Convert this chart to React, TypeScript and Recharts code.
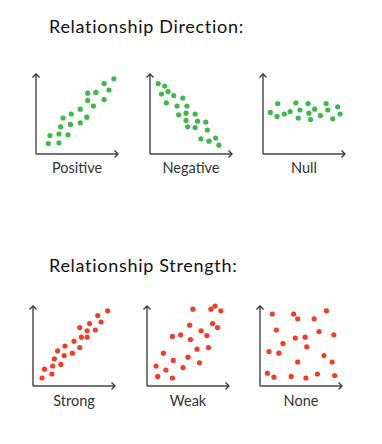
import { ScatterChart, Scatter, XAxis, YAxis } from 'recharts'

// points, each panel on a 0-100 scale
const positivePoints = [
  [15, 13], [28, 14], [17, 23], [28, 25], [39, 24], [30, 34], [33, 45], [42, 37],
  [43, 50], [54, 39], [54, 56], [62, 46], [63, 67], [63, 76], [70, 60], [73, 77],
  [83, 68], [83, 88], [89, 80], [95, 94],
]
const negativePoints = [
  [10, 88], [18, 85], [14, 75], [22, 78], [29, 73], [40, 70], [20, 64], [33, 60],
  [45, 60], [35, 49], [44, 51], [55, 50], [44, 42], [58, 41], [68, 40], [46, 34],
  [55, 33], [70, 30], [62, 19], [72, 16], [80, 20], [84, 11],
]
const nullPoints = [
  [9, 52], [18, 63], [17, 47], [26, 50], [33, 53], [40, 64], [43, 45], [45, 55],
  [55, 63], [56, 51], [58, 43], [63, 56], [70, 48], [77, 63], [79, 55], [85, 44],
  [91, 59], [94, 50],
]
const strongPoints = [
  [11, 10], [23, 15], [14, 21], [24, 25], [34, 27], [26, 34], [38, 38], [30, 44],
  [48, 41], [39, 50], [57, 48], [50, 56], [59, 61], [66, 61], [57, 73], [66, 69],
  [69, 78], [76, 70], [83, 80], [79, 88], [91, 94],
]
const weakPoints = [
  [13, 12], [31, 10], [11, 25], [23, 20], [44, 23], [20, 41], [32, 32], [50, 36],
  [64, 29], [31, 62], [41, 64], [53, 58], [61, 46], [75, 48], [52, 76], [66, 69],
  [73, 63], [80, 78], [86, 73], [56, 96], [78, 96], [83, 100], [90, 94],
]
const nonePoints = [
  [15, 90], [41, 90], [46, 84], [66, 84], [81, 94], [20, 70], [72, 68], [90, 64],
  [43, 60], [55, 61], [28, 53], [57, 49], [11, 43], [23, 41], [78, 38], [46, 30],
  [88, 30], [9, 16], [17, 11], [38, 12], [56, 10], [70, 15], [91, 13],
]

const directionLabels = ['Positive', 'Negative', 'Null']
const strengthLabels = ['Strong', 'Weak', 'None']

const GREEN = '#3db94b'
const RED = '#f23d26'

const toRows = (pts: number[][]) => pts.map(([x, y]) => ({ x, y }))

interface PanelProps {
  id: string
  label: string
  points: number[][]
  color: string
  left: number
  top: number
  labelOffset: number
}

function Panel({ id, label, points, color, left, top, labelOffset }: PanelProps) {
  const markerId = 'arrow-' + id
  return (
    <div style={{ position: 'absolute', left: left - 8, top: top - 6 }}>
      <ScatterChart width={112} height={122} margin={{ top: 6, left: 7, right: 22, bottom: 35 }}>
        <defs>
          <marker
            id={markerId}
            markerUnits="userSpaceOnUse"
            markerWidth={10}
            markerHeight={10}
            refX={4}
            refY={4}
            orient="auto-start-reverse"
          >
            <path d="M0.5,0.5 L4,4 L0.5,7.5" fill="none" stroke="#333" strokeWidth={1.3} />
          </marker>
        </defs>
        <XAxis
          type="number"
          dataKey="x"
          domain={[0, 100]}
          height={1}
          tick={false}
          tickLine={false}
          axisLine={{ stroke: '#444', strokeWidth: 1.3, markerEnd: `url(#${markerId})` } as any}
          label={{ value: label, position: 'bottom', offset: labelOffset, fill: '#333', fontSize: 14.5 }}
        />
        <YAxis
          type="number"
          dataKey="y"
          domain={[0, 100]}
          width={1}
          tick={false}
          tickLine={false}
          axisLine={{ stroke: '#333', strokeWidth: 1.3, markerStart: `url(#${markerId})` } as any}
        />
        <Scatter
          data={toRows(points)}
          isAnimationActive={false}
          shape={(p: any) => <circle cx={p.cx} cy={p.cy} r={2.6} fill={color} />}
        />
      </ScatterChart>
    </div>
  )
}

const titleStyle: React.CSSProperties = {
  position: 'absolute',
  left: 49,
  fontSize: 18,
  letterSpacing: 0.7,
  lineHeight: '20px',
  color: '#111',
  whiteSpace: 'nowrap',
}

export default function App() {
  return (
    <div
      style={{
        position: 'absolute',
        left: 0,
        top: 0,
        width: 382,
        height: 444,
        background: '#fff',
        fontFamily: 'Lato, sans-serif',
      }}
    >
      <div style={{ ...titleStyle, top: 16 }}>Relationship Direction:</div>
      <div style={{ ...titleStyle, top: 255 }}>Relationship Strength:</div>

      <Panel id="p1" label={directionLabels[0]} points={positivePoints} color={GREEN} left={36} top={74} labelOffset={7.5} />
      <Panel id="p2" label={directionLabels[1]} points={negativePoints} color={GREEN} left={150} top={74} labelOffset={7.5} />
      <Panel id="p3" label={directionLabels[2]} points={nullPoints} color={GREEN} left={263} top={74} labelOffset={7.5} />

      <Panel id="p4" label={strengthLabels[0]} points={strongPoints} color={RED} left={33} top={306} labelOffset={9} />
      <Panel id="p5" label={strengthLabels[1]} points={weakPoints} color={RED} left={146.5} top={306} labelOffset={9} />
      <Panel id="p6" label={strengthLabels[2]} points={nonePoints} color={RED} left={260} top={306} labelOffset={9} />
    </div>
  )
}
